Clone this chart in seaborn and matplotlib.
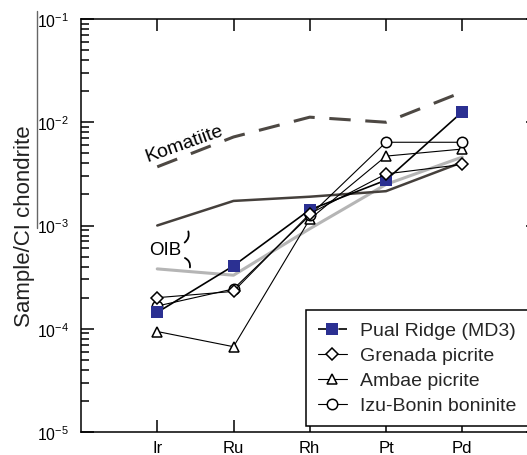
import numpy as np
import pandas as pd
import matplotlib
matplotlib.use("Agg")
import matplotlib.pyplot as plt
import seaborn as sns
from matplotlib.lines import Line2D
from matplotlib.ticker import FixedLocator, FuncFormatter, LogLocator, NullFormatter

# ---------------- data ----------------
elements = ["Ir", "Ru", "Rh", "Pt", "Pd"]
pual_ridge = [1.44e-4, 4.07e-4, 1.42e-3, 2.75e-3, 1.26e-2]
grenada = [2.0e-4, 2.3e-4, 1.3e-3, 3.16e-3, 3.9e-3]
ambae = [9.4e-5, 6.7e-5, 1.15e-3, 4.7e-3, 5.5e-3]
izu_bonin = [1.66e-4, 2.43e-4, 1.25e-3, 6.4e-3, 6.4e-3]
komatiite = [3.7e-3, 7.2e-3, 1.12e-2, 1.0e-2, 1.96e-2]
oib_high = [1.0e-3, 1.73e-3, 1.9e-3, 2.15e-3, 4.1e-3]
oib_low = [3.8e-4, 3.3e-4, 9.3e-4, 2.5e-3, 4.6e-3]
series_labels = ["Pual Ridge (MD3)", "Grenada picrite", "Ambae picrite", "Izu-Bonin boninite"]
ytick_exponents = [-5, -4, -3, -2, -1]
y_label = "Sample/CI chondrite"
komatiite_label = "Komatiite"
oib_label = "OIB"

# ---------------- style ----------------
sns.set_theme(style="ticks")
plt.rcParams["font.family"] = ["Liberation Sans", "DejaVu Sans"]
plt.rcParams["mathtext.fontset"] = "custom"
plt.rcParams["mathtext.rm"] = "Liberation Sans"
plt.rcParams["mathtext.it"] = "Liberation Sans:italic"
plt.rcParams["mathtext.bf"] = "Liberation Sans:bold"

W, H = 527, 456
fig = plt.figure(figsize=(W / 100, H / 100), dpi=100)
ax = fig.add_axes([81 / W, 1 - 433 / H, 457.5 / W, 413 / H])

pos = np.arange(len(elements))
blue = "#2b3092"
dark = "#45403c"
light = "#b5b5b5"

# background reference lines
sns.lineplot(x=pos, y=oib_low, ax=ax, color=light, lw=2.2, sort=False, zorder=1)
sns.lineplot(x=pos, y=oib_high, ax=ax, color=dark, lw=1.8, sort=False, zorder=1)
sns.lineplot(x=pos, y=komatiite, ax=ax, color="#4d4843", lw=2.2,
             linestyle=(0, (7, 4.8)), sort=False, zorder=1)

specs = [
    (ambae, "^", 7.5, "white"),
    (izu_bonin, "o", 7.5, "white"),
    (pual_ridge, "s", 8.5, blue),
    (grenada, "D", 6.3, "white"),
]
order = [2, 3, 0, 1]  # spec index -> legend position
line_objs = {}
for (vals, mk, ms, fc), li in zip(specs, order):
    is_pual = mk == "s"
    sns.lineplot(x=pos, y=vals, ax=ax, color="black", lw=1.2 if is_pual else 0.8,
                 marker=mk, markersize=ms, markerfacecolor=fc,
                 markeredgecolor=blue if is_pual else "black",
                 markeredgewidth=0 if is_pual else 1.1, sort=False, zorder=3)
    line_objs[li] = ax.lines[-1]

ax.set_yscale("log")
ax.set_ylim(1e-5, 1e-1)
ax.set_xlim(-1, 5)

ax.xaxis.set_major_locator(FixedLocator(pos))
ax.set_xticklabels(elements, fontsize=12)
ax.yaxis.set_major_locator(FixedLocator([10.0 ** e for e in ytick_exponents]))
ax.yaxis.set_major_formatter(FuncFormatter(lambda v, p: r"$\mathregular{10^{%d}}$" % round(np.log10(v))))
ax.yaxis.set_minor_locator(LogLocator(base=10, subs=np.arange(2, 10)))
ax.yaxis.set_minor_formatter(NullFormatter())
ax.tick_params(axis="both", which="both", direction="in", top=True, right=True,
               color="black", width=1.1, labelcolor="black")
ax.tick_params(axis="y", which="major", length=9.4, labelsize=11.3, pad=9)
ax.tick_params(axis="y", which="minor", length=5.8)
ax.tick_params(axis="x", which="major", length=8.6, pad=6)
for s in ax.spines.values():
    s.set_linewidth(1.1)
    s.set_color("black")

ax.set_ylabel(y_label, fontsize=16, color="#222222", labelpad=1)
ax.set_xlabel("")

# annotations
ax.text(0.225, 0.70, komatiite_label, transform=ax.transAxes, rotation=19.5,
        fontsize=14, ha="center", va="center", color="black")
ax.text(0.185, 0.442, oib_label, transform=ax.transAxes, fontsize=13.5,
        ha="center", va="center", color="black")
ax.annotate("", xy=(0.2215, 0.455), xytext=(0.2325, 0.492), xycoords="axes fraction",
            arrowprops=dict(arrowstyle="-", color="black", lw=1.3,
                            connectionstyle="arc3,rad=-0.45"))
ax.annotate("", xy=(0.2368, 0.392), xytext=(0.2215, 0.4237), xycoords="axes fraction",
            arrowprops=dict(arrowstyle="-", color="black", lw=1.3,
                            connectionstyle="arc3,rad=-0.5"))

# legend
leg_handles = []
for i in range(4):
    ln = line_objs[i]
    h = Line2D([], [], color="black", lw=ln.get_linewidth(),
               marker=ln.get_marker(), markersize=ln.get_markersize(),
               markerfacecolor=ln.get_markerfacecolor(),
               markeredgecolor=ln.get_markeredgecolor(),
               markeredgewidth=ln.get_markeredgewidth())
    if i == 0:
        h.set_linestyle((0, (5.25, 7)))
    leg_handles.append(h)
leg = ax.legend(leg_handles, series_labels, loc="lower right",
                bbox_to_anchor=(0.978, 0.0145), borderaxespad=0, fontsize=14,
                frameon=True, fancybox=False, framealpha=1, edgecolor="black",
                handlelength=1.5, handletextpad=0.7, labelspacing=0.38,
                borderpad=0.6)
leg.get_frame().set_linewidth(1.1)
leg.set_zorder(5)

# stray vertical rule at the far left of the reference
fig.add_artist(Line2D([37 / W, 37 / W], [1 - 12 / H, 1 - 229 / H],
                      transform=fig.transFigure, color="#666666", lw=1.0))

fig.savefig("out.png", dpi=100)
